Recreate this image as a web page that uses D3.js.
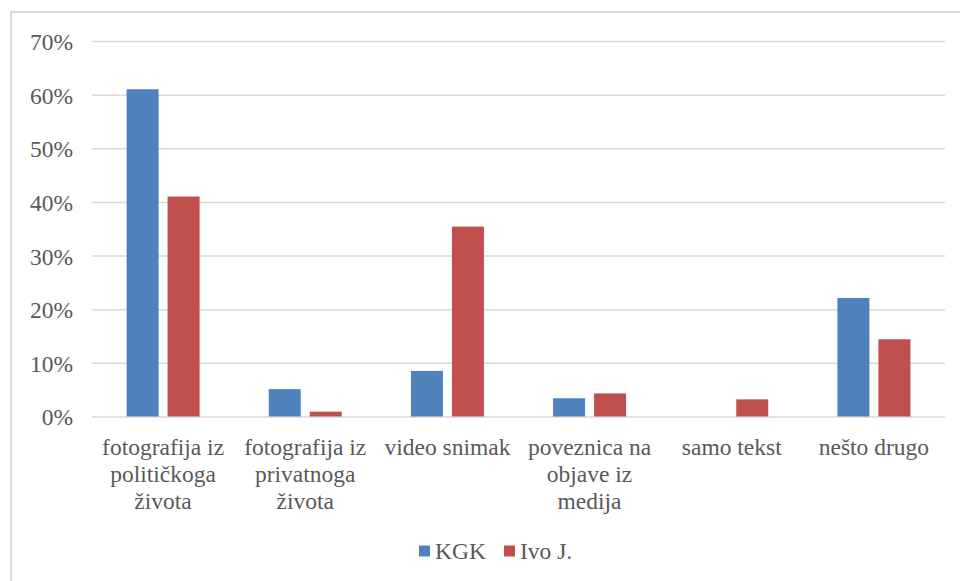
<!DOCTYPE html>
<html><head><meta charset="utf-8">
<script src="https://cdn.jsdelivr.net/npm/d3@7"></script>
</head><body>
<script>
const categories = [
  ["fotografija iz","političkoga","života"],
  ["fotografija iz","privatnoga","života"],
  ["video snimak"],
  ["poveznica na","objave iz","medija"],
  ["samo tekst"],
  ["nešto drugo"]
];
const seriesNames = ["KGK","Ivo J."];
const kgk = [0.61, 0.051, 0.085, 0.034, 0, 0.221];
const ivo = [0.41, 0.009, 0.354, 0.043, 0.032, 0.144];
const yTicks = [0,0.1,0.2,0.3,0.4,0.5,0.6,0.7];
const colors = ["#4f81bd","#c0504d"];

(function(){
d3.select("body").style("margin","0");
const W=960,H=581;
const FONT="Liberation Serif", FS=23.5, TXT="#595959";
const svg=d3.select("body").append("svg").attr("width",W).attr("height",H).style("display","block");
svg.append("rect").attr("x",11).attr("y",12).attr("width",W).attr("height",H)
  .attr("fill","#fff").attr("stroke","#d9d9d9").attr("stroke-width",2);

const pL=92,pR=945,pT=41,pB=416.5;
const x=d3.scaleBand().domain(d3.range(categories.length)).range([pL,pR]);
const y=d3.scaleLinear().domain([0,0.7]).range([pB,pT]);

const yAxis=d3.axisLeft(y).tickValues(yTicks).tickFormat(d3.format(".0%")).tickSize(-(pR-pL)).tickPadding(19);
const gy=svg.append("g").attr("transform",`translate(${pL},0)`).call(yAxis);
gy.select(".domain").remove();
gy.selectAll(".tick line").attr("stroke","#d9d9d9").attr("stroke-width",1.5);
gy.selectAll(".tick text").attr("fill",TXT).attr("dy","0.36em")
  .attr("font-family",FONT).attr("font-size",FS).style("font-family",FONT,"important");

const bw=32, gap=9;
const data=[kgk,ivo];
data.forEach((vals,si)=>{
  svg.append("g").selectAll("rect").data(vals).join("rect")
    .attr("x",(d,i)=>x(i)+x.bandwidth()/2 - (bw*2+gap)/2 + si*(bw+gap))
    .attr("y",d=>y(d)).attr("width",bw).attr("height",d=>y(0)-y(d))
    .attr("fill",colors[si]);
});

categories.forEach((lines,i)=>{
  const cx=x(i)+x.bandwidth()/2;
  lines.forEach((l,j)=>svg.append("text").attr("x",cx).attr("y",454.5+27*j)
    .attr("text-anchor","middle").attr("font-family",FONT).attr("font-size",FS)
    .style("font-family",FONT,"important").attr("fill",TXT).text(l));
});

const legX=[419,504];
seriesNames.forEach((n,i)=>{
  svg.append("rect").attr("x",legX[i]).attr("y",545.5).attr("width",11).attr("height",11).attr("fill",colors[i]);
  svg.append("text").attr("x",legX[i]+16).attr("y",559).attr("font-family",FONT).attr("font-size",FS)
    .style("font-family",FONT,"important").attr("fill",TXT).text(n);
});
})();
</script>
</body></html>
